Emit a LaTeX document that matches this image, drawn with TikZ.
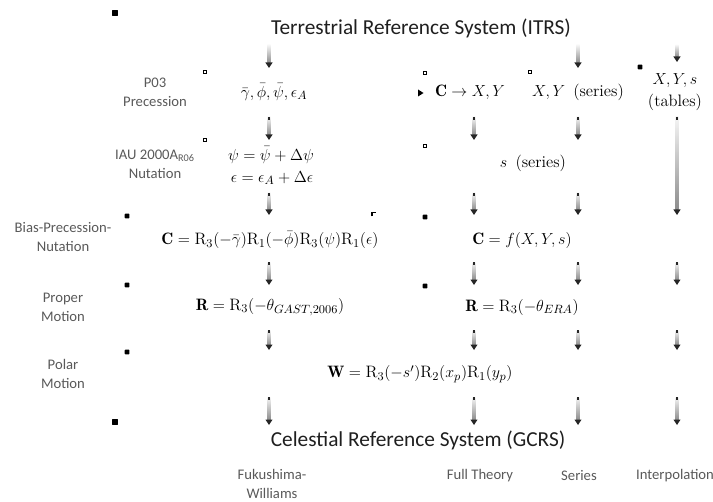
\documentclass[tikz,border=0pt]{standalone}
\usepackage{fontspec}
\newfontfamily\calib{Carlito}
\usetikzlibrary{calc}

\tikzset{
  frame/.style={font=\calib\fontsize{16}{19}\selectfont, text=black!88},
  side/.style={font=\calib\fontsize{11}{14.25}\selectfont, text=black!65, align=center},
  eq/.style={font=\fontsize{12.4}{15}\selectfont, inner sep=0pt},
  dotbox/.style={fill=black, inner sep=0pt, minimum size=3.4pt, rounded corners=0.4pt},
  bigdot/.style={dotbox, minimum size=4.4pt},
  ringbox/.style={draw=black, line width=1.1pt, fill=white, inner sep=0pt, minimum size=2.6pt},
}

% shaded arrow: column, from level, to level
\newcommand{\flow}[3]{%
  \shade[top color=black!4, bottom color=black!45]
    ($(#1 |- #2)+(-1.7,0)$) rectangle ($(#1 |- #3)+(1.7,-5)$);
  \fill[black!85] ($(#1 |- #3)+(-3.6,-5.5)$) -- ($(#1 |- #3)+(3.6,-5.5)$) -- (#1 |- #3) -- cycle;
}
\newcommand{\flowt}[3]{%
  \flow{#1}{#2}{#3}
  \draw[black!85, line width=0.9pt] (#1 |- #2) -- ($(#1 |- #2)+(0,3)$);
}

\begin{document}
\begin{tikzpicture}[x=0.75pt, y=-0.75pt]
    \useasboundingbox (0,0) rectangle (713,502);

    % titles
    \node[frame] (itrs) at (421,28) {Terrestrial Reference System (ITRS)};
    \node[frame] (gcrs) at (418,440) {Celestial Reference System (GCRS)};

    % row labels
    \node[side] (lpre) at (155,92) {P03\\Precession};
    \node[side] (lnut) at (155,164) {IAU 2000A\textsubscript{R06}\\Nutation};
    \node[side] (lbpn) at (63,237) {Bias-Precession-\\Nutation};
    \node[side] (lrot) at (63,307) {Proper\\Motion};
    \node[side] (lpol) at (63,374) {Polar\\Motion};

    % column labels
    \node[side] (kfw) at (272,484) {Fukushima-\\Williams};
    \node[side] (kft) at (480,476) {Full Theory};
    \node[side] (ksr) at (579,476) {Series};
    \node[side] (kin) at (675,476) {Interpolation};

    % Fukushima-Williams column
    \node[eq] (fwpre) at (274,92) {$\bar{\gamma}, \bar{\phi}, \bar{\psi}, \epsilon_{A}$};
    \node[eq] (fwpsi) at (271,155) {$\psi = \bar{\psi} + \Delta\psi$};
    \node[eq] (fweps) at (272,178) {$\epsilon = \epsilon_A + \Delta\epsilon$};
    \node[eq] (fwbpn) at (270,240) {$\mathbf{C} = \mathrm{R}_3(-\bar{\gamma})\mathrm{R}_1(-\bar{\phi})\mathrm{R}_3(\psi)\mathrm{R}_1(\epsilon)$};
    \node[eq] (fwrot) at (270,307) {$\mathbf{R} = \mathrm{R}_3(-\theta_{GAST,2006})$};

    % CIO based columns
    \node[eq] (ftxy) at (470,92) {$\mathbf{C} \rightarrow X, Y$};
    \node[eq] (srxy) at (578,92) {$X, Y$ \,(series)};
    \node[eq, align=center] (intab) at (675,92) {$X, Y, s$\\[1pt](tables)};
    \node[eq] (sser) at (533,163) {$s$ \,(series)};
    \node[eq] (cbpn) at (522,240) {$\mathbf{C} = f(X, Y, s)$};
    \node[eq] (crot) at (522,307) {$\mathbf{R} = \mathrm{R}_3(-\theta_{ERA})$};

    % common
    \node[eq] (polar) at (420,374) {$\mathbf{W} = \mathrm{R}_3(-s')\mathrm{R}_2(x_p)\mathrm{R}_1(y_p)$};

    % columns and levels for the arrows
    \coordinate (c1) at (269,0);
    \coordinate (c2) at (474,0);
    \coordinate (c3) at (578,0);
    \coordinate (c4) at (677,0);
    \coordinate (a0) at (0,45);  \coordinate (b0) at (0,68);  \coordinate (b0s) at (0,62);
    \coordinate (a1) at (0,117); \coordinate (b1) at (0,140);
    \coordinate (a2) at (0,193); \coordinate (b2) at (0,215);
    \coordinate (a3) at (0,262); \coordinate (b3) at (0,285);
    \coordinate (a4) at (0,330); \coordinate (b4) at (0,350);
    \coordinate (a5) at (0,397); \coordinate (b5) at (0,425);

    \flow{c1}{a0}{b0}
    \flow{c3}{a0}{b0}
    \flow{c4}{a0}{b0s}
    \foreach \c in {c1,c2,c3} {
        \flowt{\c}{a1}{b1}
        \flowt{\c}{a2}{b2}
    }
    \flowt{c4}{a1}{b2}
    \foreach \c in {c1,c2,c3,c4} {
        \flowt{\c}{a3}{b3}
        \flowt{\c}{a4}{b4}
        \flowt{\c}{a5}{b5}
    }

    % small marks
    \foreach \n/\x/\y in {m1/115/13, m2/115/422} \node[bigdot] (\n) at (\x,\y) {};
    \foreach \n/\x/\y in {m3/127/216, m4/127/285, m5/127/352, m6/425/217, m7/425/286, m8/640/67}
        \node[dotbox] (\n) at (\x,\y) {};
    \foreach \n/\x/\y in {r1/205/72, r2/205/140, r3/425/73, r4/425/146, r5/530/72}
        \node[ringbox] (\n) at (\x,\y) {};
    \draw[line width=1.1pt] (372,216.5) -- (372,212.5) -- (375.5,212.5);
    \fill (418,89.5) -- (423.5,93) -- (418,96.5) -- cycle;
\end{tikzpicture}
\end{document}
